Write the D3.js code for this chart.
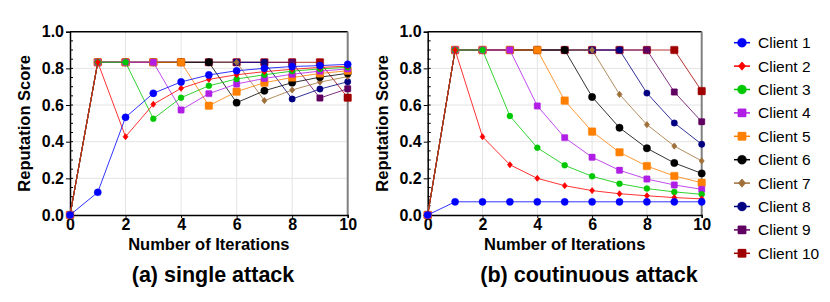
<!DOCTYPE html>
<html><head><meta charset="utf-8">
<script src="https://cdn.jsdelivr.net/npm/d3@7"></script>
<style>body{margin:0;background:#fff;} svg{display:block;font-family:"Liberation Sans",Arial,sans-serif;}</style>
</head><body>
<svg id="c" width="830" height="302"></svg>
<script>
const iterations = [0,1,2,3,4,5,6,7,8,9,10];
const clients = ["Client 1","Client 2","Client 3","Client 4","Client 5","Client 6","Client 7","Client 8","Client 9","Client 10"];
const colors = ["#0000ff","#ff0000","#00c800","#b01ee6","#ff8000","#000000","#a0703a","#000080","#600060","#a00000"];
const shapes = ["circle","diamond","circle","square","square","circle","diamond","circle","square","square"];
const sizes = [3.6,2.4,3,3.2,3.8,3.7,2.5,3.2,3.2,3.8];

const singleAttack = [
  [0,0.124,0.533,0.664,0.726,0.764,0.787,0.800,0.810,0.815,0.822],
  [0,0.833,0.427,0.604,0.691,0.740,0.765,0.782,0.795,0.805,0.812],
  [0,0.833,0.833,0.525,0.640,0.705,0.742,0.765,0.785,0.797,0.806],
  [0,0.833,0.833,0.833,0.573,0.662,0.715,0.745,0.768,0.785,0.797],
  [0,0.833,0.833,0.833,0.833,0.596,0.673,0.722,0.750,0.772,0.787],
  [0,0.833,0.833,0.833,0.833,0.833,0.613,0.678,0.722,0.752,0.773],
  [0,0.833,0.833,0.833,0.833,0.833,0.833,0.624,0.682,0.725,0.755],
  [0,0.833,0.833,0.833,0.833,0.833,0.833,0.833,0.633,0.687,0.727],
  [0,0.833,0.833,0.833,0.833,0.833,0.833,0.833,0.833,0.638,0.689],
  [0,0.833,0.833,0.833,0.833,0.833,0.833,0.833,0.833,0.833,0.640]
];
const continuousAttack = [
  [0,0.072,0.072,0.072,0.072,0.072,0.072,0.072,0.072,0.072,0.072],
  [0,0.900,0.427,0.274,0.200,0.160,0.133,0.116,0.105,0.095,0.088],
  [0,0.900,0.900,0.540,0.367,0.271,0.211,0.171,0.144,0.126,0.113],
  [0,0.900,0.900,0.900,0.595,0.422,0.315,0.244,0.196,0.164,0.140],
  [0,0.900,0.900,0.900,0.900,0.624,0.455,0.342,0.267,0.213,0.176],
  [0,0.900,0.900,0.900,0.900,0.900,0.644,0.476,0.364,0.284,0.227],
  [0,0.900,0.900,0.900,0.900,0.900,0.900,0.658,0.493,0.376,0.295],
  [0,0.900,0.900,0.900,0.900,0.900,0.900,0.900,0.665,0.502,0.386],
  [0,0.900,0.900,0.900,0.900,0.900,0.900,0.900,0.900,0.671,0.509],
  [0,0.900,0.900,0.900,0.900,0.900,0.900,0.900,0.900,0.900,0.676]
];
const xTicks = [0,2,4,6,8,10];
const yTicks = [0,0.2,0.4,0.6,0.8,1.0];
const titles = ["(a) single attack","(b) coutinuous attack"];

const svg = d3.select("#c");

function marker(g, shape, color, s, x, y){
  if(shape==="circle"){
    g.append("circle").attr("cx",x).attr("cy",y).attr("r",s).attr("fill",color).attr("stroke",color).attr("stroke-opacity",0.35).attr("stroke-width",1);
  } else if(shape==="square"){
    g.append("rect").attr("x",x-s).attr("y",y-s).attr("width",2*s).attr("height",2*s).attr("rx",0.8).attr("fill",color).attr("stroke",color).attr("stroke-opacity",0.35).attr("stroke-width",1);
  } else {
    g.append("path").attr("d",`M${x},${y-s-0.6}L${x+s},${y}L${x},${y+s+0.6}L${x-s},${y}Z`).attr("fill",color).attr("stroke",color).attr("stroke-width",0.8);
  }
}

function panel(data, x0, x1, titleX, title){
  const x = d3.scaleLinear().domain([0,10]).range([x0,x1]);
  const y = d3.scaleLinear().domain([0,1]).range([215,31.7]);
  const g = svg.append("g");
  g.selectAll(".gx").data(xTicks.slice(1,-1)).join("line")
    .attr("x1",d=>x(d)).attr("x2",d=>x(d)).attr("y1",y(0)).attr("y2",y(1))
    .attr("stroke","#e4e4e4").attr("stroke-width",1);
  g.selectAll(".gy").data(yTicks.slice(1,-1)).join("line")
    .attr("x1",x(0)).attr("x2",x(10)).attr("y1",d=>y(d)).attr("y2",d=>y(d))
    .attr("stroke","#e4e4e4").attr("stroke-width",1);
  g.append("line").attr("x1",x(0)).attr("x2",x(10)).attr("y1",y(1)).attr("y2",y(1)).attr("stroke","#000").attr("stroke-width",1.5);
  g.append("line").attr("x1",x(10)).attr("x2",x(10)).attr("y1",y(0)).attr("y2",y(1)).attr("stroke","#808080").attr("stroke-width",2);
  const minor = d3.range(0.05,1,0.05);
  g.selectAll(".my").data(minor).join("line")
    .attr("x1",x(0)).attr("x2",x(0)+3).attr("y1",d=>y(d)).attr("y2",d=>y(d))
    .attr("stroke","#000").attr("stroke-width",1);
  const ay = g.append("g").attr("transform",`translate(${x(0)},0)`)
    .call(d3.axisLeft(y).tickValues(yTicks).tickFormat(d3.format(".1f")).tickSize(4).tickPadding(2));
  const ax = g.append("g").attr("transform",`translate(0,${y(0)})`)
    .call(d3.axisBottom(x).tickValues(xTicks).tickSize(3).tickPadding(1));
  [ax,ay].forEach(a=>{
    a.select(".domain").attr("stroke","#000").attr("stroke-width",1.5);
    a.selectAll("text").attr("font-size",16).attr("font-weight","bold").attr("fill","#000")
      .attr("font-family","'Liberation Sans',Arial,sans-serif");
  });
  const line = d3.line().x((d,i)=>x(iterations[i])).y(d=>y(d));
  for(let k=data.length-1;k>=0;k--){
    const vals = data[k];
    const sg = g.append("g");
    sg.append("path").attr("d",line(vals)).attr("fill","none").attr("stroke",colors[k]).attr("stroke-width",1).attr("stroke-opacity",0.8);
    vals.forEach((v,i)=>marker(sg,shapes[k],colors[k],sizes[k],x(iterations[i]),y(v)));
  }
  svg.append("text").attr("x",(x0+x1)/2).attr("y",250).attr("text-anchor","middle")
    .attr("font-size",16.5).attr("font-weight","bold").text("Number of Iterations");
  svg.append("text").attr("transform",`translate(${x0-40},${(y(0)+y(1))/2}) rotate(-90)`)
    .attr("text-anchor","middle").attr("font-size",16.5).attr("font-weight","bold").text("Reputation Score");
  svg.append("text").attr("x",titleX).attr("y",282).attr("text-anchor","middle")
    .attr("font-size",21.5).attr("font-weight","bold").text(title);
}

panel(singleAttack, 70, 347.7, 213, titles[0]);
panel(continuousAttack, 427.7, 701.7, 589, titles[1]);

const leg = svg.append("g");
clients.forEach((c,k)=>{
  const yy = 42.7 + k*23.4;
  leg.append("line").attr("x1",734).attr("x2",750).attr("y1",yy).attr("y2",yy).attr("stroke",colors[k]).attr("stroke-width",1.5);
  marker(leg, shapes[k], colors[k], shapes[k]==="diamond"?3.5:(shapes[k]==="square"?4.2:4.5), 742, yy);
  leg.append("text").attr("x",758).attr("y",yy+5.5).attr("font-size",15.5).attr("fill","#000").text(c);
});
</script>
</body></html>
